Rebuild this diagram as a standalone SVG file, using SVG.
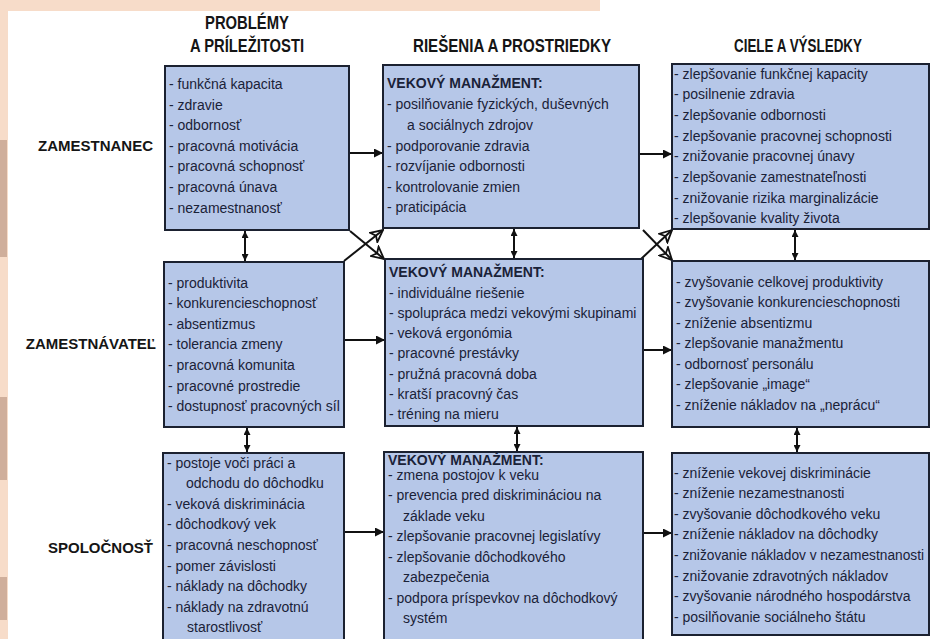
<svg xmlns="http://www.w3.org/2000/svg" width="932" height="639" viewBox="0 0 932 639">
<defs>
<style>
.bg{fill:#ffffff}
.peach{fill:#f7dcc9}
.spot{fill:#cfae9b}
.box{fill:#b6c7e8;stroke:#1b2130;stroke-width:2}
.t{font-family:"Liberation Sans",Arial,sans-serif;font-size:14px;fill:#1a2238}
.h{font-family:"Liberation Sans",Arial,sans-serif;font-size:14px;font-weight:bold;fill:#1a2238}
.lbl{font-family:"Liberation Sans",Arial,sans-serif;font-size:15px;font-weight:bold;fill:#151515}
.hdr{font-family:"Liberation Sans",Arial,sans-serif;font-size:18px;font-weight:bold;fill:#151515}
.ln{stroke:#111;stroke-width:2;fill:none}
</style>
<marker id="ah" markerUnits="userSpaceOnUse" markerWidth="9" markerHeight="9" refX="9" refY="4.5" orient="auto">
<path d="M0,0 L9,4.5 L0,9 z" fill="#111"/>
</marker>
<marker id="as" markerUnits="userSpaceOnUse" markerWidth="7" markerHeight="7" refX="7" refY="3.5" orient="auto-start-reverse">
<path d="M0,0 L7,3.5 L0,7 z" fill="#111"/>
</marker>
<marker id="av" markerUnits="userSpaceOnUse" markerWidth="14" markerHeight="14" refX="13" refY="7" orient="auto">
<path d="M1,1 L13,7 L1,13 L4,7 z" fill="none" stroke="#111" stroke-width="1.8"/>
</marker>
</defs>

<rect class="peach" x="0" y="0" width="932" height="639"/>
<rect class="bg" x="8" y="11" width="924" height="628"/>
<rect class="bg" x="600" y="0" width="332" height="11"/>
<rect class="spot" x="0" y="140" width="7" height="117"/>
<rect class="spot" x="0" y="397" width="7" height="83"/>
<rect class="spot" x="0" y="577" width="7" height="43"/>

<g id="headers">
<text class="hdr" x="247" y="29" text-anchor="middle" textLength="84" lengthAdjust="spacingAndGlyphs">PROBLÉMY</text>
<text class="hdr" x="247" y="52" text-anchor="middle" textLength="114" lengthAdjust="spacingAndGlyphs">A PRÍLEŽITOSTI</text>
<text class="hdr" x="512" y="52" text-anchor="middle" textLength="198" lengthAdjust="spacingAndGlyphs">RIEŠENIA A PROSTRIEDKY</text>
<text class="hdr" x="798" y="52" text-anchor="middle" textLength="128" lengthAdjust="spacingAndGlyphs">CIELE A VÝSLEDKY</text>
</g>

<g id="row-labels">
<text class="lbl" x="153" y="150.5" text-anchor="end">ZAMESTNANEC</text>
<text class="lbl" x="156" y="348.5" text-anchor="end">ZAMESTNÁVATEĽ</text>
<text class="lbl" x="153" y="552.5" text-anchor="end">SPOLOČNOSŤ</text>
</g>

<g id="connectors">
<line class="ln" x1="350" y1="153" x2="383" y2="153" marker-end="url(#ah)"/>
<line class="ln" x1="639" y1="154" x2="672" y2="154" marker-end="url(#ah)"/>
<line class="ln" x1="344" y1="340" x2="385" y2="340" marker-end="url(#ah)"/>
<line class="ln" x1="643" y1="350" x2="672" y2="350" marker-end="url(#ah)"/>
<line class="ln" x1="344" y1="532" x2="384" y2="532" marker-end="url(#ah)"/>
<line class="ln" x1="643" y1="533" x2="672" y2="533" marker-end="url(#ah)"/>
<line class="ln" stroke-width="1.6" x1="245" y1="231" x2="245" y2="261" marker-start="url(#as)" marker-end="url(#as)"/>
<line class="ln" stroke-width="1.6" x1="247" y1="428" x2="247" y2="452" marker-start="url(#as)" marker-end="url(#as)"/>
<line class="ln" stroke-width="1.6" x1="514" y1="229" x2="514" y2="258" marker-start="url(#as)" marker-end="url(#as)"/>
<line class="ln" stroke-width="1.6" x1="517" y1="427" x2="517" y2="451" marker-start="url(#as)" marker-end="url(#as)"/>
<line class="ln" stroke-width="1.6" x1="795" y1="230" x2="795" y2="260" marker-start="url(#as)" marker-end="url(#as)"/>
<line class="ln" stroke-width="1.6" x1="797" y1="428" x2="797" y2="452" marker-start="url(#as)" marker-end="url(#as)"/>
<line class="ln" stroke-width="2.4" x1="344" y1="261" x2="383" y2="230" marker-end="url(#av)"/>
<line class="ln" stroke-width="2.4" x1="350" y1="231" x2="384" y2="259" marker-end="url(#av)"/>
<line class="ln" stroke-width="2.4" x1="641" y1="259" x2="672" y2="230" marker-end="url(#av)"/>
<line class="ln" stroke-width="2.4" x1="643" y1="230" x2="672" y2="260" marker-end="url(#av)"/>
</g>

<g id="zam-problemy">
<rect class="box" x="165" y="66" width="184" height="164"/>
<text class="t" x="169" y="89">- funkčná kapacita</text>
<text class="t" x="169" y="109.6">- zdravie</text>
<text class="t" x="169" y="130.2">- odbornosť</text>
<text class="t" x="169" y="150.8">- pracovná motivácia</text>
<text class="t" x="169" y="171.4">- pracovná schopnosť</text>
<text class="t" x="169" y="192">- pracovná únava</text>
<text class="t" x="169" y="212.6">- nezamestnanosť</text>
</g>

<g id="zam-riesenia">
<rect class="box" x="383" y="65" width="256" height="163"/>
<text class="h" x="387" y="88">VEKOVÝ MANAŽMENT:</text>
<text class="t" x="387" y="108.5">- posilňovanie fyzických, duševných</text>
<text class="t" x="407" y="129.5">a sociálnych zdrojov</text>
<text class="t" x="387" y="150.5">- podporovanie zdravia</text>
<text class="t" x="387" y="171">- rozvíjanie odbornosti</text>
<text class="t" x="387" y="191.5">- kontrolovanie zmien</text>
<text class="t" x="387" y="212">- praticipácia</text>
</g>

<g id="zam-ciele">
<rect class="box" x="672" y="64" width="257" height="165"/>
<text class="t" x="674" y="78.5">- zlepšovanie funkčnej kapacity</text>
<text class="t" x="674" y="99.2">- posilnenie zdravia</text>
<text class="t" x="674" y="119.9">- zlepšovanie odbornosti</text>
<text class="t" x="674" y="140.6">- zlepšovanie pracovnej schopnosti</text>
<text class="t" x="674" y="161.3">- znižovanie pracovnej únavy</text>
<text class="t" x="674" y="182">- zlepšovanie zamestnateľnosti</text>
<text class="t" x="674" y="202.7">- znižovanie rizika marginalizácie</text>
<text class="t" x="674" y="223.4">- zlepšovanie kvality života</text>
</g>

<g id="zav-problemy">
<rect class="box" x="164" y="262" width="180" height="165"/>
<text class="t" x="168" y="287.5">- produktivita</text>
<text class="t" x="168" y="308.1">- konkurencieschopnosť</text>
<text class="t" x="168" y="328.7">- absentizmus</text>
<text class="t" x="168" y="349.3">- tolerancia zmeny</text>
<text class="t" x="168" y="369.9">- pracovná komunita</text>
<text class="t" x="168" y="390.5">- pracovné prostredie</text>
<text class="t" x="168" y="411.1">- dostupnosť pracovných síl</text>
</g>

<g id="zav-riesenia">
<rect class="box" x="385" y="259" width="258" height="167"/>
<text class="h" x="389" y="277">VEKOVÝ MANAŽMENT:</text>
<text class="t" x="389" y="297.5">- individuálne riešenie</text>
<text class="t" x="389" y="317.8">- spolupráca medzi vekovými skupinami</text>
<text class="t" x="389" y="338.1">- veková ergonómia</text>
<text class="t" x="389" y="358.4">- pracovné prestávky</text>
<text class="t" x="389" y="378.7">- pružná pracovná doba</text>
<text class="t" x="389" y="399">- kratší pracovný čas</text>
<text class="t" x="389" y="419.3">- tréning na mieru</text>
</g>

<g id="zav-ciele">
<rect class="box" x="672" y="261" width="257" height="166"/>
<text class="t" x="676" y="286.5">- zvyšovanie celkovej produktivity</text>
<text class="t" x="676" y="307">- zvyšovanie konkurencieschopnosti</text>
<text class="t" x="676" y="327.5">- zníženie absentizmu</text>
<text class="t" x="676" y="348">- zlepšovanie manažmentu</text>
<text class="t" x="676" y="368.5">- odbornosť personálu</text>
<text class="t" x="676" y="389">- zlepšovanie „image“</text>
<text class="t" x="676" y="409.5">- zníženie nákladov na „neprácu“</text>
</g>

<g id="spo-problemy">
<rect class="box" x="163" y="453" width="181" height="190"/>
<text class="t" x="167" y="467.5">- postoje voči práci a</text>
<text class="t" x="186" y="488.1">odchodu do dôchodku</text>
<text class="t" x="167" y="508.7">- veková diskriminácia</text>
<text class="t" x="167" y="529.3">- dôchodkový vek</text>
<text class="t" x="167" y="549.9">- pracovná neschopnosť</text>
<text class="t" x="167" y="570.5">- pomer závislosti</text>
<text class="t" x="167" y="591.1">- náklady na dôchodky</text>
<text class="t" x="167" y="611.7">- náklady na zdravotnú</text>
<text class="t" x="187" y="632.3">starostlivosť</text>
</g>

<g id="spo-riesenia">
<rect class="box" x="384" y="452" width="259" height="191"/>
<text class="h" x="388" y="464.5">VEKOVÝ MANAŽMENT:</text>
<text class="t" x="388" y="479.5">- zmena postojov k veku</text>
<text class="t" x="388" y="500">- prevencia pred diskrimináciou na</text>
<text class="t" x="403" y="520.5">základe veku</text>
<text class="t" x="388" y="541">- zlepšovanie pracovnej legislatívy</text>
<text class="t" x="388" y="561.5">- zlepšovanie dôchodkového</text>
<text class="t" x="403" y="582">zabezpečenia</text>
<text class="t" x="388" y="602.5">- podpora príspevkov na dôchodkový</text>
<text class="t" x="403" y="623">systém</text>
</g>

<g id="spo-ciele">
<rect class="box" x="672" y="453" width="257" height="182"/>
<text class="t" x="674" y="477.5">- zníženie vekovej diskriminácie</text>
<text class="t" x="674" y="498.1">- zníženie nezamestnanosti</text>
<text class="t" x="674" y="518.7">- zvyšovanie dôchodkového veku</text>
<text class="t" x="674" y="539.3">- zníženie nákladov na dôchodky</text>
<text class="t" x="674" y="559.9" textLength="250" lengthAdjust="spacingAndGlyphs">- znižovanie nákladov v nezamestnanosti</text>
<text class="t" x="674" y="580.5">- znižovanie zdravotných nákladov</text>
<text class="t" x="674" y="601.1">- zvyšovanie národného hospodárstva</text>
<text class="t" x="674" y="621.7">- posilňovanie sociálneho štátu</text>
</g>
</svg>
